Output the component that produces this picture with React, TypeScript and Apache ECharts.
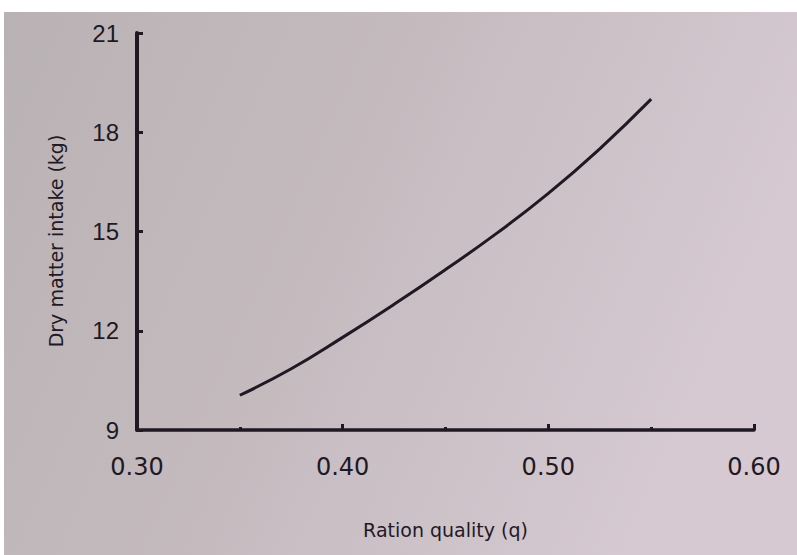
import React, { useEffect, useRef } from "react";
import * as echarts from "echarts";

const rationQuality = [0.35, 0.375, 0.4, 0.425, 0.45, 0.475, 0.5, 0.525, 0.55];
const dryMatterIntake = [10.05, 10.85, 11.8, 12.8, 13.85, 14.95, 16.15, 17.5, 19.0];
const xTicks = [0.3, 0.4, 0.5, 0.6];
const yTicks = [9, 12, 15, 18, 21];
const xTitle = "Ration quality (q)";
const yTitle = "Dry matter intake (kg)";

const ink = "#1f1923";

export default function App() {
  const ref = useRef<HTMLDivElement>(null);
  useEffect(() => {
    if (!ref.current) return;
    const chart = echarts.init(ref.current, undefined, { renderer: "svg" });
    const data = rationQuality.map((q, i) => [q, dryMatterIntake[i]]);
    chart.setOption({
      animation: false,
      backgroundColor: "#ffffff",
      graphic: [
        {
          type: "rect",
          z: -10,
          silent: true,
          shape: { x: 4, y: 12, width: 793, height: 543 },
          style: {
            fill: new echarts.graphic.LinearGradient(0, 0, 1, 0.3, [
              { offset: 0, color: "#b9b2b4" },
              { offset: 0.5, color: "#c5bbbf" },
              { offset: 1, color: "#d6c9d2" },
            ]),
          },
        },
        {
          type: "text",
          x: 56,
          y: 241,
          rotation: Math.PI / 2,
          style: {
            text: yTitle,
            fill: ink,
            font: "19px 'DejaVu Sans'",
            textAlign: "center",
            textVerticalAlign: "middle",
          },
        },
      ],
      grid: { left: 137, right: 43, top: 33, bottom: 125 },
      xAxis: {
        type: "value",
        min: xTicks[0],
        max: xTicks[xTicks.length - 1],
        interval: 0.1,
        name: xTitle,
        nameLocation: "middle",
        nameGap: 90,
        nameTextStyle: { color: ink, fontSize: 19, fontFamily: "DejaVu Sans" },
        axisLine: { show: true, lineStyle: { color: ink, width: 3.5 } },
        axisTick: { show: true, inside: true, length: 6, lineStyle: { color: ink, width: 3 } },
        minorTick: { show: true, splitNumber: 2, length: 3, lineStyle: { color: ink, width: 3 } },
        splitLine: { show: false },
        axisLabel: {
          color: ink,
          fontSize: 24,
          fontFamily: "DejaVu Sans",
          margin: 25,
          formatter: (v: number) => v.toFixed(2),
        },
      },
      yAxis: {
        type: "value",
        min: yTicks[0],
        max: yTicks[yTicks.length - 1],
        interval: 3,
        axisLine: { show: true, lineStyle: { color: ink, width: 4 } },
        axisTick: { show: true, inside: true, length: 6, lineStyle: { color: ink, width: 3 } },
        splitLine: { show: false },
        axisLabel: {
          color: ink,
          fontSize: 24,
          fontFamily: "Liberation Sans",
          margin: 18,
          padding: [8, 0, 0, 0],
        },
      },
      series: [
        {
          type: "line",
          data,
          smooth: true,
          symbol: "none",
          lineStyle: { color: ink, width: 3 },
        },
      ],
    });
    return () => chart.dispose();
  }, []);
  return (
    <div
      ref={ref}
      style={{ position: "fixed", left: 0, top: 0, width: 797, height: 555 }}
    />
  );
}
